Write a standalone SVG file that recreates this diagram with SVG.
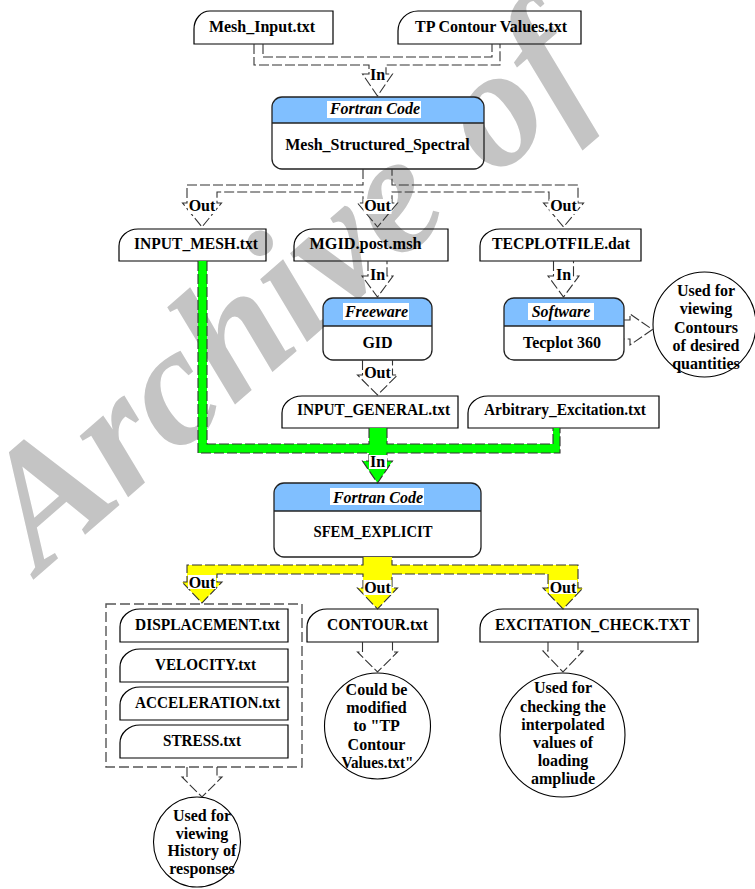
<svg xmlns="http://www.w3.org/2000/svg" width="755" height="889" viewBox="0 0 755 889">
<style>
text{font-family:"Liberation Serif","Times New Roman",serif;font-weight:bold;font-size:16px;fill:#000;text-anchor:middle}
.hd{font-style:italic}
.file{fill:none;stroke:#000;stroke-width:1.2}
.node{fill:none;stroke:#222;stroke-width:1.3}
.hdr{fill:#80BFFF}
.bg{fill:#fff}
.c{fill:none;stroke:#333;stroke-width:1.1;stroke-dasharray:10 3}
.circ{fill:none;stroke:#000;stroke-width:1.1}
.wm{font-family:"Liberation Serif","Times New Roman",serif;font-style:italic;font-weight:bold;font-size:170px;word-spacing:12px;fill:#c4c4c4;text-anchor:start}
</style>
<rect width="755" height="889" fill="#fff"/>
<text class="wm" transform="translate(40,574) rotate(-41)">Archive of</text>

<g id="n-mesh-input"><path class="file" d="M194,44V29A16,18 0 0 1 210,11H333V44Z"/><text x="262" y="32">Mesh_Input.txt</text></g>
<g id="n-tp-contour"><path class="file" d="M398,44V31A20,20 0 0 1 418,11H581V44Z"/><text x="491" y="32" textLength="152" lengthAdjust="spacingAndGlyphs">TP Contour Values.txt</text></g>

<g id="n-fortran-mesh">
<path class="hdr" d="M272,123V107A10,10 0 0 1 282,97H474A10,10 0 0 1 484,107V123Z"/>
<rect class="node" x="272" y="97" width="212" height="72" rx="10"/>
<line class="node" x1="272" y1="123" x2="484" y2="123"/>
<rect class="bg" x="327" y="101" width="94" height="17"/>
<text class="hd" x="375" y="114">Fortran Code</text>
<text x="377.5" y="150">Mesh_Structured_Spectral</text>
</g>

<g id="n-input-mesh"><path class="file" d="M119,261V246A19,17 0 0 1 138,229H266V261Z"/><text x="196" y="249" textLength="124" lengthAdjust="spacingAndGlyphs">INPUT_MESH.txt</text></g>
<g id="n-mgid"><path class="file" d="M294,261V246A19,17 0 0 1 313,229H448V261Z"/><text x="365.5" y="249" textLength="112" lengthAdjust="spacingAndGlyphs">MGID.post.msh</text></g>
<g id="n-tecplotfile"><path class="file" d="M480,261V246A20,17 0 0 1 500,229H641V261Z"/><text x="561" y="249" textLength="138" lengthAdjust="spacingAndGlyphs">TECPLOTFILE.dat</text></g>

<g id="n-gid">
<path class="hdr" d="M323,326V308A10,10 0 0 1 333,298H422A10,10 0 0 1 432,308V326Z"/>
<rect class="node" x="323" y="298" width="109" height="62" rx="10"/>
<line class="node" x1="323" y1="326" x2="432" y2="326"/>
<rect class="bg" x="343" y="303" width="66" height="17"/>
<text class="hd" x="376.5" y="317">Freeware</text>
<text x="377.5" y="348">GID</text>
</g>

<g id="n-tecplot">
<path class="hdr" d="M504,326V308A10,10 0 0 1 514,298H614A10,10 0 0 1 624,308V326Z"/>
<rect class="node" x="504" y="298" width="120" height="62" rx="10"/>
<line class="node" x1="504" y1="326" x2="624" y2="326"/>
<rect class="bg" x="528" y="303" width="66" height="17"/>
<text class="hd" x="561" y="317">Software</text>
<text x="562" y="348">Tecplot 360</text>
</g>

<g id="n-view-contours">
<ellipse class="circ" cx="704.5" cy="324.5" rx="51.5" ry="52.5"/>
<text x="706" y="296">Used for<tspan x="706" y="314">viewing</tspan><tspan x="706" y="332.5">Contours</tspan><tspan x="706" y="350.5">of desired</tspan><tspan x="706" y="368.5">quantities</tspan></text>
</g>

<g id="n-input-general"><path class="file" d="M282,428V413A20,17 0 0 1 302,396H458V428Z"/><text x="373.5" y="415" textLength="153" lengthAdjust="spacingAndGlyphs">INPUT_GENERAL.txt</text></g>
<g id="n-arbitrary"><path class="file" d="M468,428V413A20,17 0 0 1 488,396H659V428Z"/><text x="565" y="415" textLength="162" lengthAdjust="spacingAndGlyphs">Arbitrary_Excitation.txt</text></g>

<g id="n-sfem">
<path class="hdr" d="M274,511V493A10,10 0 0 1 284,483H471A10,10 0 0 1 481,493V511Z"/>
<rect class="node" x="274" y="483" width="207" height="74" rx="10"/>
<line class="node" x1="274" y1="511" x2="481" y2="511"/>
<rect class="bg" x="330" y="488" width="94" height="17"/>
<text class="hd" x="378" y="502.5">Fortran Code</text>
<text x="373" y="537" textLength="119" lengthAdjust="spacingAndGlyphs">SFEM_EXPLICIT</text>
</g>

<g id="n-results-group">
<rect x="106" y="604" width="196" height="163" fill="none" stroke="#555" stroke-width="1.4" stroke-dasharray="10 4"/>
<g id="n-displacement"><path class="file" d="M120,642V627A20,18 0 0 1 140,609H288V642Z"/><text x="207.5" y="629.5" textLength="145" lengthAdjust="spacingAndGlyphs">DISPLACEMENT.txt</text></g>
<g id="n-velocity"><path class="file" d="M120,682V667A20,18 0 0 1 140,649H288V682Z"/><text x="205.5" y="669.5" textLength="101" lengthAdjust="spacingAndGlyphs">VELOCITY.txt</text></g>
<g id="n-acceleration"><path class="file" d="M120,720V705A20,18 0 0 1 140,687H288V720Z"/><text x="207.5" y="707.5" textLength="145" lengthAdjust="spacingAndGlyphs">ACCELERATION.txt</text></g>
<g id="n-stress"><path class="file" d="M120,758V743A20,18 0 0 1 140,725H288V758Z"/><text x="202" y="745.5" textLength="78" lengthAdjust="spacingAndGlyphs">STRESS.txt</text></g>
</g>

<g id="n-contour"><path class="file" d="M307,642V627A20,18 0 0 1 327,609H438V642Z"/><text x="377.5" y="629.5" textLength="101" lengthAdjust="spacingAndGlyphs">CONTOUR.txt</text></g>
<g id="n-excitation-check"><path class="file" d="M480,642V628A23,19 0 0 1 503,609H698V642Z"/><text x="592.5" y="629.5" textLength="195" lengthAdjust="spacingAndGlyphs">EXCITATION_CHECK.TXT</text></g>

<g id="n-could-be">
<ellipse class="circ" cx="377.5" cy="726" rx="53" ry="53"/>
<text x="376.5" y="695">Could be<tspan x="376.5" y="713.2">modified</tspan><tspan x="376.5" y="731.4">to "TP</tspan><tspan x="376.5" y="749.5">Contour</tspan><tspan x="377.5" y="767.5" textLength="72" lengthAdjust="spacingAndGlyphs">Values.txt"</tspan></text>
</g>

<g id="n-checking">
<ellipse class="circ" cx="562.5" cy="735" rx="62.5" ry="62"/>
<text x="563" y="693.3">Used for<tspan x="563" y="711.5">checking the</tspan><tspan x="563" y="729.7">interpolated</tspan><tspan x="563" y="747.6">values of</tspan><tspan x="563" y="765.7">loading</tspan><tspan x="563" y="783.6">ampliude</tspan></text>
</g>

<g id="n-history">
<ellipse class="circ" cx="197" cy="842" rx="43.5" ry="45"/>
<text x="202" y="820.7">Used for<tspan x="202" y="838.5">viewing</tspan><tspan x="202" y="856.2">History of</tspan><tspan x="202" y="874">responses</tspan></text>
</g>

<g id="connectors">
<path class="c" d="M254,44V65H369V74H362.5L377.5,96L392.5,74H386V65H500V44"/>
<path class="c" d="M263,44V57H492V44"/>
<rect class="bg" x="370" y="68" width="15" height="15"/><text x="377.5" y="80">In</text>

<path class="c" d="M363,169V185H187V203H182.5L202,227L221.5,203H217V192H363V203H357.5L377.5,227L397.5,203H392V192H549V203H543.5L563.5,227L583.5,203H578V185H392V169"/>
<rect class="bg" x="188" y="199" width="28" height="15"/><text x="202" y="211">Out</text>
<rect class="bg" x="363.5" y="199" width="28" height="15"/><text x="377.5" y="211">Out</text>
<rect class="bg" x="549.5" y="199" width="28" height="15"/><text x="563.5" y="211">Out</text>

<path class="c" d="M368,261V276H362L377.5,297L393,276H387V261"/>
<rect class="bg" x="370" y="267" width="15" height="16"/><text x="377.5" y="280">In</text>
<path class="c" d="M553.5,261V276H548L563.5,297L579,276H573.5V261"/>
<rect class="bg" x="556" y="267" width="15" height="16"/><text x="563.5" y="280">In</text>

<path class="c" d="M624,320H630V314L652.5,329.5L630,345V339H624"/>

<path class="c" d="M362.5,360V375H357.5L377.5,395L397.5,375H392.5V360"/>
<rect class="bg" x="364" y="365" width="27" height="16"/><text x="377.5" y="378">Out</text>

<path fill="#00FF00" d="M198,261H207V444H369V428H387V444H553V428H560V453H387V461H392.5L377.5,483L362.5,461H369V453H198Z"/>
<path class="c" stroke="#222" d="M198,261V453H369V461H362.5L377.5,483L392.5,461H387V453H560V428"/>
<path class="c" d="M207,261V444H369V428"/>
<path class="c" d="M387,428V444H553V428"/>
<rect class="bg" x="369" y="455" width="18" height="14"/><text x="377.5" y="467">In</text>

<path fill="#FFFF00" d="M363,557H392V565H578V588H583L563,609L543,588H548V574H392V588H397.5L377.5,609L357.5,588H363V574H217V582H222L202,603L182,582H187V565H363Z"/>
<path class="c" d="M363,557V565H187V582H182L202,603L222,582H217V574H363V588H357.5L377.5,609L397.5,588H392V574H548V588H543L563,609L583,588H578V565H392V557"/>
<rect class="bg" x="188" y="575" width="28" height="14"/><text x="202" y="587.5">Out</text>
<rect class="bg" x="363.5" y="580" width="28" height="15"/><text x="377.5" y="593">Out</text>
<rect class="bg" x="549" y="580" width="28" height="14"/><text x="563" y="593">Out</text>

<path class="c" d="M362.5,642V652H357.5L377.5,672L397.5,652H392.5V642"/>
<path class="c" d="M548,642V651H543L563,672L583,651H578V642"/>
<path class="c" d="M187,767V777H182L202,797L222,777H217V767"/>
</g>
</svg>
